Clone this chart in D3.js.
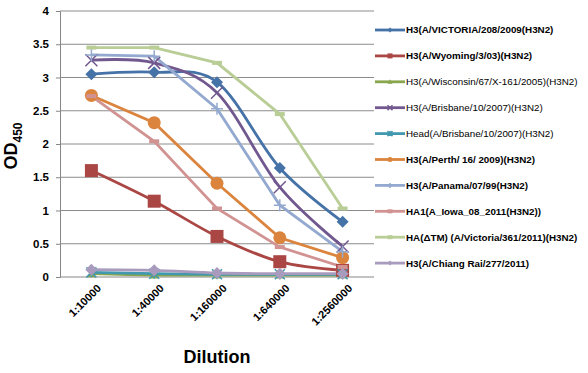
<!DOCTYPE html>
<html>
<head>
<meta charset="utf-8">
<script src="https://cdn.jsdelivr.net/npm/d3@7"></script>
<style>
  body { margin: 0; background: #fff; }
  text { font-family: "Liberation Sans", Arial, sans-serif; }
</style>
</head>
<body>
<svg id="chart" width="588" height="373"></svg>
<script>
const dilutions = ["1:10000", "1:40000", "1:160000", "1:640000", "1:2560000"];
const yTicks = [0, 0.5, 1, 1.5, 2, 2.5, 3, 3.5, 4];

const seriesNames = [
  "H3(A/VICTORIA/208/2009(H3N2)",
  "H3(A/Wyoming/3/03)(H3N2)",
  "H3(A/Wisconsin/67/X-161/2005)(H3N2)",
  "H3(A/Brisbane/10/2007)(H3N2)",
  "Head(A/Brisbane/10/2007)(H3N2)",
  "H3(A/Perth/ 16/ 2009)(H3N2)",
  "H3(A/Panama/07/99(H3N2)",
  "HA1(A_Iowa_08_2011(H3N2))",
  "HA(\u0394TM) (A/Victoria/361/2011)(H3N2)",
  "H3(A/Chiang Rai/277/2011)"
];
const seriesValues = [
  [3.05, 3.08, 2.93, 1.64, 0.83],
  [1.60, 1.14, 0.61, 0.23, 0.10],
  [0.05, 0.03, 0.03, 0.03, 0.03],
  [3.26, 3.22, 2.77, 1.35, 0.46],
  [0.07, 0.05, 0.04, 0.04, 0.04],
  [2.73, 2.32, 1.41, 0.59, 0.29],
  [3.34, 3.32, 2.53, 1.08, 0.38],
  [2.72, 2.04, 1.03, 0.45, 0.15],
  [3.45, 3.45, 3.22, 2.45, 1.03],
  [0.11, 0.10, 0.06, 0.05, 0.05]
];
const seriesColors = ["#4572A7", "#AA4643", "#89A54E", "#71588F", "#4198AF",
  "#DB843D", "#93A9CF", "#D19392", "#B9CD96", "#A99BBD"];
const seriesMarkers = ["diamond", "square", "triangle", "x", "star",
  "circle", "plus", "dash", "dash", "diamond"];
const seriesSmooth = [true, true, true, true, true, false, false, false, false, true];
const legendBold = [true, true, false, false, false, true, true, true, true, true];

const svg = d3.select("#chart");
const margin = { left: 60, right: 214, top: 11, bottom: 96 };
const width = 588 - margin.left - margin.right;
const height = 373 - margin.top - margin.bottom;

const g = svg.append("g").attr("transform", `translate(${margin.left},${margin.top})`);

const x = d3.scalePoint().domain(dilutions).range([0, width]).padding(0.5);
const y = d3.scaleLinear().domain([0, 4]).range([height, 0]);

// gridlines
g.selectAll(".grid")
  .data(yTicks.filter((d) => d > 0))
  .enter()
  .append("line")
  .attr("x1", 0)
  .attr("x2", width)
  .attr("y1", (d) => y(d))
  .attr("y2", (d) => y(d))
  .attr("stroke", "#8c8c8c")
  .attr("stroke-width", 1);

const yAxis = g.append("g").call(
  d3.axisLeft(y).tickValues(yTicks).tickFormat((d) => String(d)).tickSize(4).tickPadding(7)
);
yAxis.select(".domain").attr("stroke", "#868686");
yAxis.selectAll(".tick line").attr("stroke", "#868686");
yAxis.selectAll("text").style("font-size", "11.5px").style("font-weight", "bold").attr("fill", "#000");

const xAxis = g.append("g")
  .attr("transform", `translate(0,${height})`)
  .call(d3.axisBottom(x).tickSize(0).tickPadding(8));
xAxis.select(".domain").attr("stroke", "#868686").attr("d", `M0,0H${width}`);
xAxis.selectAll("text")
  .style("font-size", "11px")
  .style("font-weight", "bold")
  .attr("fill", "#000")
  .attr("text-anchor", "end")
  .attr("dy", "0.3em")
  .attr("transform", "translate(2,4) rotate(-45)");

// axis titles
svg.append("text")
  .attr("x", 217)
  .attr("y", 363)
  .attr("text-anchor", "middle")
  .style("font-size", "18px")
  .style("font-weight", "bold")
  .text("Dilution");

const yt = svg.append("text")
  .attr("transform", "translate(17,146) rotate(-90)")
  .attr("text-anchor", "middle")
  .style("font-size", "18px")
  .style("font-weight", "bold");
yt.append("tspan").text("OD");
yt.append("tspan").attr("dy", 5).style("font-size", "12px").text("450");

const markerPath = (type, s) => {
  const h = s / 2;
  switch (type) {
    case "diamond": return `M0,${-h}L${h},0L0,${h}L${-h},0Z`;
    case "square": return `M${-h},${-h}H${h}V${h}H${-h}Z`;
    case "triangle": return `M0,${-h}L${h},${h * 0.8}L${-h},${h * 0.8}Z`;
    case "x": return `M${-h},${-h}L${h},${h}M${-h},${h}L${h},${-h}`;
    case "plus": return `M${-h},0H${h}M0,${-h}V${h}`;
    case "star": return `M${-h},${-h}L${h},${h}M${-h},${h}L${h},${-h}M0,${-h}V${h}`;
    case "dash": return `M${-h},0H${h}`;
    default: return "";
  }
};

const drawMarker = (sel, type, color, s) => {
  if (type === "circle") {
    sel.append("circle").attr("r", s / 2).attr("fill", color);
  } else if (["x", "plus", "star", "dash"].includes(type)) {
    sel.append("path").attr("d", markerPath(type, s)).attr("stroke", color)
      .attr("stroke-width", type === "dash" ? 4 : 1.5).attr("fill", "none");
  } else {
    sel.append("path").attr("d", markerPath(type, s)).attr("fill", color);
  }
};

const markerSize = { diamond: 12, square: 13, triangle: 9, x: 12, star: 10, circle: 13, plus: 12, dash: 10 };

seriesValues.forEach((vals, i) => {
  const line = d3.line()
    .x((d, j) => x(dilutions[j]))
    .y((d) => y(d))
    .curve(seriesSmooth[i] ? d3.curveCatmullRom.alpha(0) : d3.curveLinear);
  g.append("path")
    .datum(vals)
    .attr("d", line)
    .attr("fill", "none")
    .attr("stroke", seriesColors[i])
    .attr("stroke-width", 2.8);
});

seriesValues.forEach((vals, i) => {
  vals.forEach((v, j) => {
    const m = g.append("g").attr("transform", `translate(${x(dilutions[j])},${y(v)})`);
    drawMarker(m, seriesMarkers[i], seriesColors[i], markerSize[seriesMarkers[i]]);
  });
});

// legend
const legend = svg.append("g").attr("transform", "translate(375,30)");
seriesNames.forEach((name, i) => {
  const row = legend.append("g").attr("transform", `translate(0,${i * 25.9})`);
  row.append("line").attr("x1", 0).attr("x2", 30).attr("stroke", seriesColors[i]).attr("stroke-width", 2.8);
  const m = row.append("g").attr("transform", "translate(15,0)");
  drawMarker(m, seriesMarkers[i], seriesColors[i], 5);
  row.append("text")
    .attr("x", 31)
    .attr("dy", "0.35em")
    .style("font-size", "9.8px")
    .style("font-weight", legendBold[i] ? "bold" : "normal")
    .text(name);
});
</script>
</body>
</html>
